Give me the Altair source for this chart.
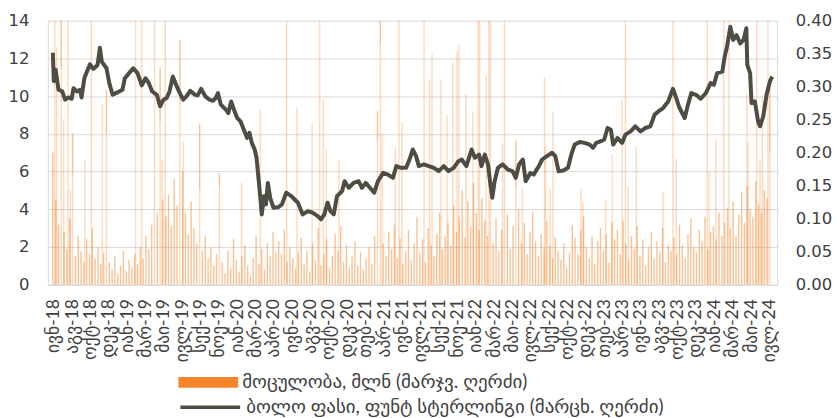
import altair as alt
import pandas as pd

# ---------------- data ----------------
x_labels = ["ივნ-18", "აგვ-18", "ოქტ-18", "დეკ-18", "იან-19", "მარ-19", "მაი-19", "ივლ-19",
            "სექ-19", "ნოე-19", "იან-20", "მარ-20", "აპრ-20", "ივნ-20", "აგვ-20", "ოქტ-20",
            "დეკ-20", "თებ-21", "აპრ-21", "ივნ-21", "ივლ-21", "სექ-21", "ნოე-21", "იან-22",
            "მარ-22", "მაი-22", "ივლ-22", "სექ-22", "ოქტ-22", "დეკ-22", "თებ-23", "აპრ-23",
            "ივნ-23", "აგვ-23", "ოქტ-23", "დეკ-23", "იან-24", "მარ-24", "მაი-24", "ივლ-24"]
label_first_day = 2
label_step_days = 39
last_day = 1529

bar_label = "მოცულობა, მლნ (მარჯვ. ღერძი)"
line_label = "ბოლო ფასი, ფუნტ სტერლინგი (მარცხ. ღერძი)"

# closing price (GBP) by trading day index
line_days = [0, 2, 6, 12, 20, 26, 33, 40, 44, 51, 58, 61, 67, 74, 79, 86, 95, 100, 104, 114,
             120, 127, 134, 141, 148, 153, 162, 171, 180, 189, 197, 204, 211, 221, 228, 235, 242, 248, 255, 262,
             270, 277, 284, 292, 302, 308, 315, 324, 333, 340, 345, 351, 357, 368, 373, 379, 385, 392, 399, 406,
             413, 418, 423, 429, 433, 437, 441, 444, 449, 453, 457, 462, 469, 479, 487, 496, 507, 514, 521, 531,
             542, 552, 563, 570, 577, 584, 590, 597, 604, 615, 620, 629, 639, 650, 657, 665, 674, 683, 691, 702,
             712, 723, 730, 740, 751, 758, 765, 772, 778, 789, 799, 810, 820, 831, 841, 852, 862, 869, 879, 890,
             897, 906, 911, 918, 925, 930, 934, 939, 946, 956, 967, 977, 984, 991, 999, 1005, 1015, 1022, 1033, 1040,
             1050, 1061, 1068, 1075, 1085, 1095, 1102, 1109, 1120, 1130, 1141, 1148, 1155, 1165, 1172, 1179, 1186, 1191, 1200, 1210,
             1217, 1228, 1238, 1249, 1259, 1270, 1279, 1287, 1297, 1308, 1318, 1325, 1332, 1343, 1350, 1357, 1367, 1377, 1388, 1398,
             1405, 1412, 1423, 1428, 1433, 1440, 1446, 1453, 1461, 1468, 1474, 1476, 1482, 1485, 1492, 1499, 1503, 1510, 1517, 1524,
             1529]
line_price = [12.30, 10.80, 11.40, 10.34, 10.25, 9.81, 9.93, 9.86, 10.42, 10.25, 10.34, 9.93, 10.95, 11.40, 11.69, 11.44, 11.65, 12.57, 11.83, 11.48,
              10.69, 10.07, 10.16, 10.25, 10.34, 10.95, 11.22, 11.48, 11.22, 10.57, 10.95, 10.69, 10.25, 10.07, 9.46, 9.81, 9.90, 10.25, 11.04, 10.60,
              10.16, 9.81, 9.99, 10.28, 10.07, 10.04, 10.39, 9.99, 9.81, 9.75, 9.86, 10.16, 9.55, 9.28, 9.10, 9.72, 9.28, 8.84, 8.66, 8.22,
              7.78, 8.05, 7.52, 7.17, 6.73, 5.67, 4.61, 3.73, 4.70, 4.26, 5.40, 4.61, 4.08, 4.11, 4.26, 4.88, 4.70, 4.52, 4.35, 3.73,
              3.90, 3.82, 3.64, 3.47, 3.73, 4.35, 3.90, 3.73, 4.70, 4.97, 5.49, 5.14, 5.40, 5.49, 5.14, 5.40, 5.14, 4.88, 5.49, 5.93,
              5.84, 5.67, 6.29, 6.20, 6.20, 6.64, 7.17, 6.82, 6.29, 6.38, 6.29, 6.20, 6.02, 6.29, 6.02, 6.20, 6.55, 6.64, 6.29, 7.17,
              6.73, 6.90, 6.29, 6.90, 6.38, 5.32, 4.61, 5.49, 6.20, 6.38, 6.11, 6.02, 5.67, 6.38, 6.64, 5.49, 5.93, 5.84, 6.29, 6.64,
              6.82, 7.00, 6.82, 6.02, 6.06, 6.20, 6.90, 7.43, 7.57, 7.52, 7.43, 7.26, 7.52, 7.61, 7.70, 8.31, 8.22, 7.43, 7.78, 7.52,
              7.96, 8.13, 8.40, 8.13, 8.31, 8.40, 9.02, 9.19, 9.37, 9.72, 10.39, 9.90, 9.37, 8.84, 9.55, 10.16, 10.07, 9.86, 10.16, 10.69,
              10.60, 11.22, 11.30, 12.10, 12.63, 13.68, 12.98, 13.24, 12.80, 12.98, 13.60, 11.66, 11.22, 9.63, 9.72, 8.66, 8.40, 8.93, 10.07, 10.78,
              11.04]

# daily volume (mln shares), sampled every 6 trading days
base_step_days = 6
base_volume = [0.200, 0.129, 0.091, 0.186, 0.080, 0.054, 0.100, 0.063, 0.043, 0.074, 0.051, 0.034, 0.069, 0.046, 0.086, 0.040, 0.057, 0.031, 0.049, 0.066,
               0.034, 0.023, 0.043, 0.017, 0.029, 0.051, 0.020, 0.037, 0.026, 0.046, 0.031, 0.057, 0.040, 0.074, 0.054, 0.091, 0.069, 0.109, 0.083, 0.129,
               0.103, 0.137, 0.089, 0.160, 0.120, 0.097, 0.171, 0.109, 0.077, 0.126, 0.086, 0.063, 0.100, 0.051, 0.074, 0.040, 0.057, 0.029, 0.046, 0.023,
               0.034, 0.017, 0.051, 0.026, 0.069, 0.037, 0.020, 0.043, 0.060, 0.029, 0.014, 0.040, 0.074, 0.031, 0.054, 0.023, 0.063, 0.043, 0.080, 0.049,
               0.066, 0.046, 0.083, 0.034, 0.057, 0.040, 0.026, 0.049, 0.071, 0.031, 0.051, 0.020, 0.063, 0.037, 0.086, 0.029, 0.046, 0.069, 0.026, 0.043,
               0.077, 0.051, 0.089, 0.034, 0.060, 0.026, 0.043, 0.066, 0.029, 0.049, 0.023, 0.040, 0.057, 0.031, 0.074, 0.046, 0.097, 0.063, 0.043, 0.080,
               0.054, 0.091, 0.040, 0.071, 0.031, 0.051, 0.083, 0.037, 0.063, 0.103, 0.049, 0.069, 0.034, 0.086, 0.060, 0.043, 0.077, 0.109, 0.054, 0.074,
               0.094, 0.060, 0.120, 0.080, 0.103, 0.143, 0.071, 0.126, 0.089, 0.154, 0.109, 0.083, 0.131, 0.097, 0.074, 0.114, 0.063, 0.100, 0.051, 0.083,
               0.069, 0.106, 0.054, 0.089, 0.074, 0.114, 0.063, 0.094, 0.046, 0.080, 0.111, 0.066, 0.043, 0.077, 0.054, 0.097, 0.060, 0.040, 0.071, 0.051,
               0.037, 0.063, 0.026, 0.049, 0.091, 0.071, 0.046, 0.083, 0.103, 0.057, 0.040, 0.074, 0.031, 0.066, 0.086, 0.051, 0.077, 0.034, 0.094, 0.069,
               0.083, 0.046, 0.097, 0.063, 0.037, 0.074, 0.054, 0.089, 0.043, 0.069, 0.029, 0.057, 0.080, 0.040, 0.066, 0.049, 0.086, 0.034, 0.060, 0.051,
               0.071, 0.046, 0.091, 0.060, 0.040, 0.077, 0.100, 0.057, 0.049, 0.083, 0.066, 0.103, 0.054, 0.080, 0.089, 0.069, 0.109, 0.074, 0.094, 0.117,
               0.086, 0.126, 0.074, 0.106, 0.140, 0.094, 0.149, 0.114, 0.103, 0.157, 0.123, 0.109, 0.143, 0.131, 0.097]

# high-volume days (mln shares)
spike_days = [4, 8, 18, 23, 32, 37, 42, 68, 82, 105,
              114, 176, 189, 216, 228, 232, 239, 270, 277, 312,
              354, 401, 441, 497, 519, 551, 567, 575, 581, 608,
              690, 696, 700, 728, 736, 742, 789, 801, 806, 825,
              838, 850, 859, 863, 878, 893, 904, 907, 921, 927,
              930, 956, 960, 984, 998, 1045, 1047, 1057, 1063, 1123,
              1127, 1175, 1189, 1210, 1217, 1223, 1240, 1297, 1318, 1325,
              1391, 1395, 1409, 1426, 1437, 1475, 1478, 1496, 1503, 1508,
              1520, 1524]
spike_volume = [0.48, 0.360, 0.326, 0.251, 0.52, 0.143, 0.166, 0.189, 0.45, 0.274,
                0.229, 0.47, 0.50, 0.44, 0.246, 0.189, 0.55, 0.274, 0.217, 0.143,
                0.146, 0.154, 0.266, 0.46, 0.269, 0.246, 0.49, 0.280, 0.206, 0.189,
                0.217, 0.363, 0.229, 0.209, 0.45, 0.246, 0.53, 0.311, 0.349, 0.311,
                0.257, 0.337, 0.354, 0.363, 0.289, 0.263, 0.47, 0.51, 0.317, 0.44,
                0.58, 0.214, 0.46, 0.146, 0.146, 0.314, 0.211, 0.146, 0.263, 0.146,
                0.126, 0.129, 0.197, 0.280, 0.49, 0.149, 0.209, 0.140, 0.52, 0.191,
                0.47, 0.171, 0.220, 0.45, 0.50, 0.289, 0.217, 0.48, 0.191, 0.286,
                0.46, 0.200]

left_ticks = [0, 2, 4, 6, 8, 10, 12, 14]
right_ticks = [0, 0.05, 0.10, 0.15, 0.20, 0.25, 0.30, 0.35, 0.40]

# ---------------- frames ----------------
line_df = pd.DataFrame({"day": line_days, "price": line_price, "s": line_label})
base_df = pd.DataFrame({"day": [i * base_step_days for i in range(len(base_volume))],
                        "vol": base_volume, "kind": "base", "s": bar_label})
spike_df = pd.DataFrame({"day": spike_days, "vol": spike_volume, "kind": "spike", "s": bar_label})
bars_df = pd.concat([base_df, spike_df], ignore_index=True)

tick_days = [label_first_day + label_step_days * i for i in range(len(x_labels))]
label_array = "[" + ",".join("'" + l + "'" for l in x_labels) + "]"
label_expr = label_array + f"[round((datum.value - {label_first_day}) / {label_step_days})]"

NUM_FONT = "'DejaVu Sans', sans-serif"
FONT = "Lato, 'DejaVu Sans', sans-serif"
TXT = "#404040"
GRID = "#D9D9D9"

x_enc = alt.X("day:Q",
              scale=alt.Scale(domain=[0, last_day], nice=False, zero=False),
              axis=alt.Axis(values=tick_days, labelExpr=label_expr, labelAngle=270,
                            labelOverlap=False, labelFlush=False, grid=False, ticks=False,
                            domainColor=GRID, title=None, labelFontSize=17.5, labelPadding=14,
                            labelColor=TXT, labelFont=FONT))

bars = alt.Chart(bars_df).mark_bar(size=1.4, clip=True).encode(
    x=x_enc,
    y=alt.Y("vol:Q", scale=alt.Scale(domain=[0, 0.4], nice=False, zero=True),
            axis=alt.Axis(orient="right", values=right_ticks, format=".2f", grid=False,
                          ticks=False, domainColor=GRID, title=None, labelFontSize=16.5,
                          labelPadding=18, labelColor=TXT, labelFont=NUM_FONT)),
    fill=alt.Fill("s:N", scale=alt.Scale(domain=[bar_label], range=["#F7852B"]),
                  legend=alt.Legend(orient="none", legendX=131, legendY=333, title=None,
                                    symbolType="M-1,-0.18H1V0.18H-1Z", symbolSize=3600,
                                    symbolOpacity=1, symbolStrokeWidth=0,
                                    labelFontSize=19, labelColor=TXT, labelFont=FONT,
                                    labelLimit=700, padding=0, labelOffset=4)),
    opacity=alt.Opacity("kind:N", scale=alt.Scale(domain=["base", "spike"], range=[0.5, 0.3]),
                        legend=None),
)

line = alt.Chart(line_df).mark_line(strokeWidth=4, strokeJoin="round").encode(
    x=x_enc,
    y=alt.Y("price:Q", scale=alt.Scale(domain=[0, 14], nice=False, zero=True),
            axis=alt.Axis(orient="left", values=left_ticks, grid=True, gridColor=GRID,
                          ticks=False, domainColor=GRID, title=None, labelFontSize=16.5,
                          labelPadding=19, labelColor=TXT, labelFont=NUM_FONT)),
    stroke=alt.Stroke("s:N", scale=alt.Scale(domain=[line_label], range=["#4D4D43"]),
                      legend=alt.Legend(orient="none", legendX=131, legendY=356, title=None,
                                        symbolType="stroke", symbolSize=3600,
                                        symbolStrokeWidth=3.5,
                                        labelFontSize=19, labelColor=TXT, labelFont=FONT,
                                        labelLimit=700, padding=0, labelOffset=4)),
)

chart = alt.layer(bars, line).resolve_scale(y="independent", fill="independent", stroke="independent").properties(
    width=732, height=265,
    padding={"left": 0, "top": 4, "right": 0, "bottom": 0},
).configure_view(stroke=None)

chart.save("out.html", embed_options={"renderer": "svg", "actions": False})
